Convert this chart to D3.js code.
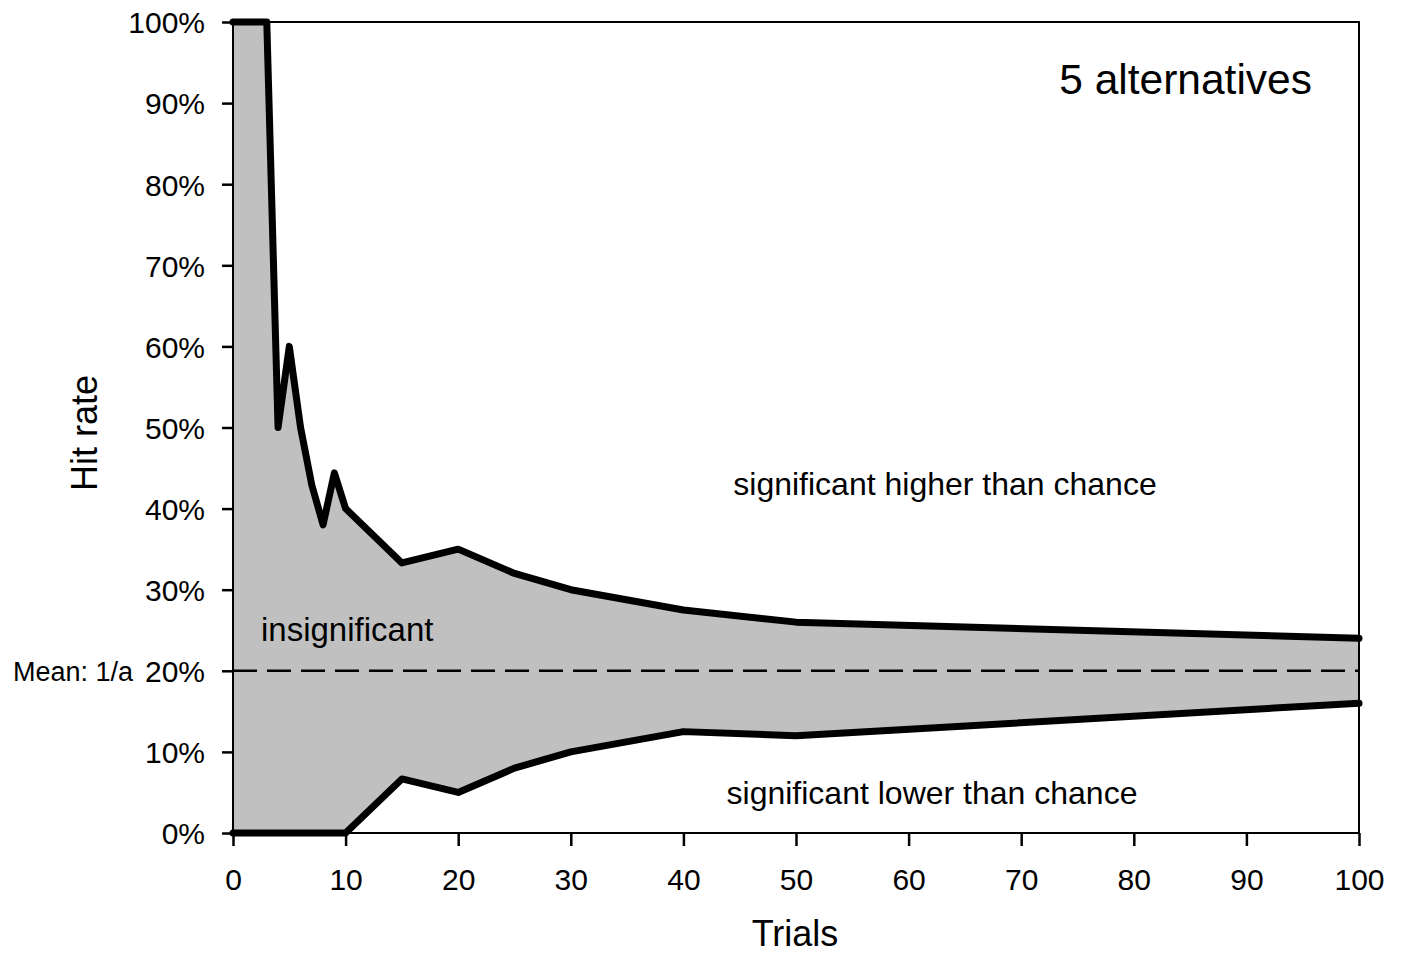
<!DOCTYPE html>
<html><head><meta charset="utf-8">
<script src="https://cdn.jsdelivr.net/npm/d3@7"></script>
<style>body{margin:0;background:#fff}svg{display:block}text{font-family:Arial,"Liberation Sans",sans-serif;fill:#000}</style>
</head><body>
<svg id="c" width="1401" height="955"></svg>
<script>
const trials = [0,1,2,3,4,5,6,7,8,9,10,15,20,25,30,40,50,100];
const upper  = [100,100,100,100,50,60,50,42.9,38,44.4,40,33.3,35,32,30,27.5,26,24];
const lowerTrials = [0,10,15,20,25,30,40,50,100];
const lower  = [0,0,6.67,5,8,10,12.5,12,16];
const xTicks = [0,10,20,30,40,50,60,70,80,90,100];
const yTicks = [0,10,20,30,40,50,60,70,80,90,100];
const meanValue = 20;

const svg = d3.select("#c");
const L=233,R=1359,T=22,B=833;
const x = d3.scaleLinear().domain([0,100]).range([L,R]);
const y = d3.scaleLinear().domain([0,100]).range([B,T]);
const FF = "Arial, 'Liberation Sans', sans-serif";

const up = trials.map((t,i)=>[t,upper[i]]);
const lo = lowerTrials.map((t,i)=>[t,lower[i]]);
const poly = up.concat(lo.slice().reverse());
svg.append("path")
  .attr("d", d3.line().x(d=>x(d[0])).y(d=>y(d[1]))(poly)+"Z")
  .attr("fill","#c0c0c0");

svg.append("line").attr("x1",x(100)-0.5).attr("x2",x(100)-0.5).attr("y1",y(16)).attr("y2",y(8))
  .attr("stroke","#555").attr("stroke-width",1).attr("stroke-dasharray","1,3");

svg.append("line").attr("x1",x(0)).attr("x2",x(100)).attr("y1",y(meanValue)).attr("y2",y(meanValue))
  .attr("stroke","#000").attr("stroke-width",2.5).attr("stroke-dasharray","24,10");

svg.append("rect").attr("x",L).attr("y",T).attr("width",R-L).attr("height",B-T)
  .attr("fill","none").attr("stroke","#000").attr("stroke-width",2);

const yAxis = d3.axisLeft(y).tickValues(yTicks).tickSize(11).tickFormat(d=>d+"%");
const gy = svg.append("g").attr("transform",`translate(${L},0)`).call(yAxis);
gy.select(".domain").remove();
gy.selectAll("line").attr("stroke","#000").attr("stroke-width",2.5);
gy.selectAll("text").attr("font-size",30).attr("x",-28).attr("dy","0.36em").style("font-family",FF);

const xAxis = d3.axisBottom(x).tickValues(xTicks).tickSize(13);
const gx = svg.append("g").attr("transform",`translate(0,${B})`).call(xAxis);
gx.select(".domain").remove();
gx.selectAll("line").attr("stroke","#000").attr("stroke-width",2.5);
gx.selectAll("text").attr("font-size",30).attr("y",57).attr("dy",0).style("font-family",FF);

const line = d3.line().x(d=>x(d[0])).y(d=>y(d[1]));
svg.append("path").attr("d",line(up)).attr("fill","none").attr("stroke","#000")
  .attr("stroke-width",7).attr("stroke-linejoin","round").attr("stroke-linecap","round");
svg.append("path").attr("d",line(lo)).attr("fill","none").attr("stroke","#000")
  .attr("stroke-width",7).attr("stroke-linejoin","round").attr("stroke-linecap","round");

svg.append("text").attr("x",133).attr("y",y(meanValue)).attr("dy","0.36em").attr("text-anchor","end")
  .attr("font-size",27).text("Mean: 1/a");
svg.append("text").attr("x",795).attr("y",946).attr("text-anchor","middle").attr("font-size",36).text("Trials");
svg.append("text").attr("transform",`translate(97,433) rotate(-90)`).attr("text-anchor","middle")
  .attr("font-size",36).text("Hit rate");
svg.append("text").attr("x",1312).attr("y",94).attr("text-anchor","end").attr("font-size",42.5).text("5 alternatives");
svg.append("text").attr("x",945).attr("y",495).attr("text-anchor","middle").attr("font-size",32).text("significant higher than chance");
svg.append("text").attr("x",261).attr("y",641).attr("font-size",33).text("insignificant");
svg.append("text").attr("x",932).attr("y",804).attr("text-anchor","middle").attr("font-size",32).text("significant lower than chance");
</script>
</body></html>
